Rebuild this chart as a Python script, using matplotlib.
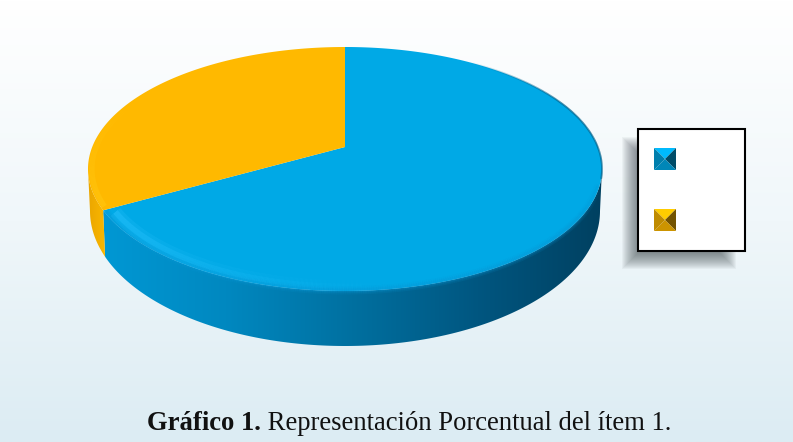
import numpy as np
import matplotlib
matplotlib.use('Agg')
import matplotlib.pyplot as plt
from matplotlib.collections import LineCollection
from matplotlib.colors import LinearSegmentedColormap, to_rgb
from matplotlib.patches import Polygon, Rectangle

# values, percent
categories = ['Si', 'No']
values = [69.5, 30.5]
slice_colors = ['#00A9E6', '#FFB900']
caption_bold = 'Gráfico 1.'
caption_rest = ' Representación Porcentual del ítem 1.'

W, H = 793, 442
fig = plt.figure(figsize=(W / 100, H / 100), dpi=100)
ax = fig.add_axes([0, 0, 1, 1])
ax.set_xlim(0, W)
ax.set_ylim(H, 0)
ax.axis('off')

# background
bg = LinearSegmentedColormap.from_list('bg', ['#FFFFFF', '#F0F7FA', '#DCECF3'])
ax.imshow(np.linspace(0, 1, 256).reshape(-1, 1), cmap=bg, extent=[0, W, H, 0], aspect='auto', zorder=0)

# pie geometry (pixels)
cx, cy, a, b = 345, 169, 257, 122
cx2, cy2, a2, b2 = 345, 211, 255, 135
ax0, ay0 = 345, 147


def rim(t, s=1.0):
    return cx + a * s * np.sin(t), cy - b * s * np.cos(t)


def rim2(t):
    return cx2 + a2 * np.sin(t), cy2 - b2 * np.cos(t)


def fade_line(t, alphas, color, lw, s=1.0):
    # rim line whose alpha changes along its length
    x, y = rim(t, s)
    p = np.c_[x, y]
    segs = np.stack([p[:-1], p[1:]], axis=1)
    cols = np.tile(to_rgb(color) + (0,), (len(segs), 1))
    cols[:, 3] = alphas[:-1]
    ax.add_collection(LineCollection(segs, colors=cols, linewidths=lw, zorder=4, capstyle='butt'))


cuts = 2 * np.pi * np.concatenate([[0], np.cumsum(values)]) / np.sum(values)

side_blue = LinearSegmentedColormap.from_list('sb', ['#0098D4', '#0088C0', '#0070A0', '#005680', '#004060'])
side_yellow = LinearSegmentedColormap.from_list('sy', ['#E8A400', '#FFBC00'])
ramp = np.linspace(0, 1, 256).reshape(1, -1)

# side walls, only the part of the rim facing the viewer
t = np.linspace(np.pi / 2, cuts[1], 200)
x1, y1 = rim(t)
x2, y2 = rim2(t)
wall = Polygon(np.vstack([np.c_[x1, y1], np.c_[x2, y2][::-1]]), closed=True, fc='none', ec='none')
ax.add_patch(wall)
im = ax.imshow(ramp, cmap=side_blue, extent=[100, 605, H, 0], aspect='auto', zorder=2)
im.set_clip_path(wall)

t = np.linspace(cuts[1], 3 * np.pi / 2, 60)
x1, y1 = rim(t)
x2, y2 = rim2(t)
wall2 = Polygon(np.vstack([np.c_[x1, y1], np.c_[x2, y2][::-1]]), closed=True, fc='none', ec='none')
ax.add_patch(wall2)
im2 = ax.imshow(ramp, cmap=side_yellow, extent=[86, 110, H, 0], aspect='auto', zorder=2)
im2.set_clip_path(wall2)

# top faces
for i in range(len(values)):
    t = np.linspace(cuts[i], cuts[i + 1], 300)
    x1, y1 = rim(t)
    pts = np.vstack([[ax0, ay0], np.c_[x1, y1]])
    ax.add_patch(Polygon(pts, closed=True, fc=slice_colors[i], ec='none', zorder=3))

# soft edge between top face and wall
t = np.linspace(np.pi / 2 + 0.12, cuts[1] - 0.01, 300)
env = np.clip((t - t[0]) / 0.3, 0, 1)
for w, al in [(6, 0.12), (4, 0.16), (2.5, 0.22)]:
    fade_line(t, al * env, '#0A9AD8', w, 0.995)

# lighter band inside the rim, fades towards the right
t = np.linspace(cuts[1] - 1.6, cuts[1] - 0.03, 300)
env = ((t - t[0]) / (t[-1] - t[0])) ** 1.5
fade_line(t, 0.25 * env, '#2CC4FF', 9, 0.96)
fade_line(t, 0.45 * env, '#2CC4FF', 4, 0.96)

# dark thin edge at the right
t = np.linspace(0.5, np.pi / 2 + 0.08, 150)
env = np.clip((t - t[0]) / 0.5, 0, 1) * 0.75
fade_line(t, env, '#005F88', 1.3)

# yellow highlight at the left
t = np.linspace(cuts[1] + 0.03, 3 * np.pi / 2 + 0.6, 100)
env = 0.35 * (1 - (t - t[0]) / (t[-1] - t[0]))
fade_line(t, env, '#FFD21E', 4, 0.985)

# legend shadow
for g in range(8, -9, -1):
    ax.add_patch(Rectangle((630 - g, 145 - g), 98 + 2 * g, 116 + 2 * g, fc='#404A50', ec='none', alpha=0.05, zorder=5))
ax.add_patch(Rectangle((638, 128.5), 106.5, 122, fc='white', ec='black', lw=1.5, zorder=6))


def pyramid(x, y, s, base):
    c = np.array(to_rgb(base))
    m = (x + s / 2, y + s / 2)
    corners = [(x, y), (x + s, y), (x + s, y + s), (x, y + s)]
    shades = [np.minimum(c * 1.1, 1), c * 0.45, c * 0.8, c * 0.75]
    for k in range(4):
        ax.add_patch(Polygon([corners[k], corners[(k + 1) % 4], m], closed=True, fc=shades[k], ec='none', zorder=7))


pyramid(654, 148, 22, slice_colors[0])
pyramid(654, 209, 22, slice_colors[1])

# caption
t1 = ax.text(147, 424, caption_bold, family='Liberation Serif', weight='bold', fontsize=19.2, va='center', ha='left', color='#111111', zorder=8)
fig.canvas.draw()
bb = t1.get_window_extent()
ax.text(bb.x1, 424, caption_rest, family='Liberation Serif', fontsize=19.2, va='center', ha='left', color='#111111', zorder=8)

ax.set_xlim(0, W)
ax.set_ylim(H, 0)
fig.savefig('out.png', dpi=100)
